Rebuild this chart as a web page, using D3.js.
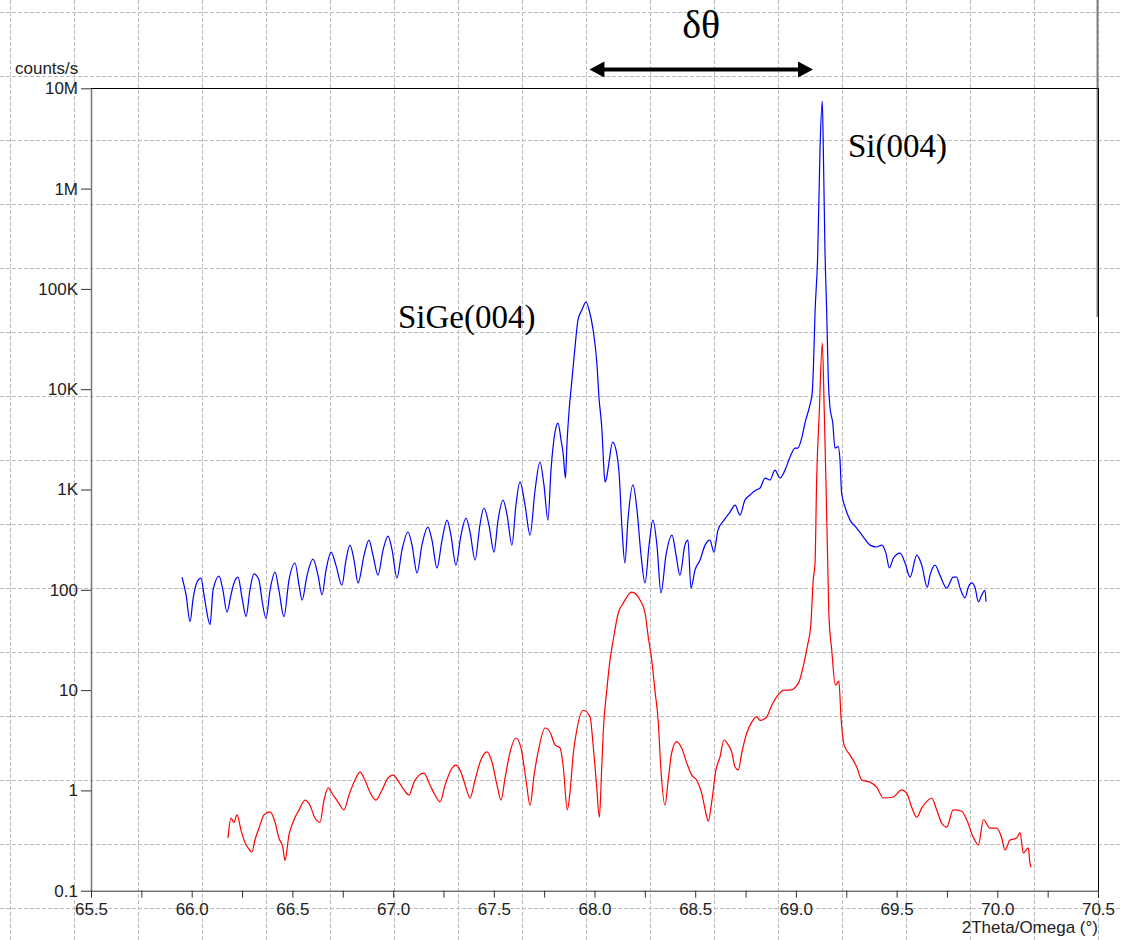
<!DOCTYPE html>
<html>
<head>
<meta charset="utf-8">
<script src="https://cdn.jsdelivr.net/npm/d3@7"></script>
<style>
  body { margin: 0; background: #fff; }
  svg { display: block; }
  .axis text { font-family: "Liberation Sans", Arial, sans-serif; font-size: 17px; fill: #222; }
  .label { font-family: "Liberation Serif", "Times New Roman", serif; fill: #000; }
</style>
</head>
<body>
<svg id="chart" width="1122" height="940"></svg>
<script>
// scan with the substrate peak (blue) and the layer peak (red)
var blueTheta = [65.952, 65.972, 65.992, 66.006, 66.026, 66.046, 66.061, 66.071, 66.091, 66.106,
  66.136, 66.155, 66.175, 66.195, 66.210, 66.230, 66.250, 66.270, 66.289, 66.309,
  66.334, 66.349, 66.369, 66.389, 66.414, 66.433, 66.458, 66.483, 66.513, 66.533,
  66.548, 66.573, 66.602, 66.627, 66.647, 66.667, 66.692, 66.716, 66.746, 66.766,
  66.786, 66.806, 66.826, 66.856, 66.880, 66.900, 66.925, 66.950, 66.975, 66.995,
  67.019, 67.044, 67.074, 67.094, 67.119, 67.143, 67.173, 67.193, 67.218, 67.243,
  67.268, 67.287, 67.312, 67.337, 67.362, 67.382, 67.407, 67.431, 67.451, 67.476,
  67.501, 67.521, 67.546, 67.566, 67.590, 67.610, 67.630, 67.655, 67.680, 67.705,
  67.729, 67.749, 67.769, 67.784, 67.804, 67.819, 67.834, 67.844, 67.856, 67.863,
  67.873, 67.888, 67.903, 67.918, 67.938, 67.958, 67.973, 67.993, 68.012, 68.022,
  68.037, 68.045, 68.052, 68.060, 68.070, 68.090, 68.110, 68.122, 68.137, 68.151,
  68.166, 68.191, 68.211, 68.231, 68.251, 68.271, 68.290, 68.310, 68.330, 68.355,
  68.385, 68.405, 68.424, 68.449, 68.464, 68.479, 68.499, 68.524, 68.549, 68.573,
  68.593, 68.613, 68.643, 68.673, 68.698, 68.722, 68.747, 68.772, 68.802, 68.822,
  68.847, 68.871, 68.896, 68.921, 68.946, 68.971, 68.996, 69.010, 69.030, 69.045,
  69.070, 69.081, 69.087, 69.095, 69.108, 69.120, 69.131, 69.136, 69.144, 69.153,
  69.161, 69.169, 69.183, 69.194, 69.210, 69.219, 69.227, 69.244, 69.269, 69.302,
  69.335, 69.368, 69.401, 69.426, 69.447, 69.464, 69.484, 69.517, 69.542, 69.567,
  69.600, 69.625, 69.652, 69.666, 69.691, 69.715, 69.749, 69.781, 69.798, 69.815,
  69.840, 69.856, 69.873, 69.889, 69.906, 69.923, 69.939, 69.944];

var blueCounts = [134, 89, 48, 79, 119, 131, 89, 67, 45, 99,
  137, 99, 60, 89, 117, 134, 83, 54, 99, 144,
  125, 79, 52, 99, 150, 99, 54, 125, 185, 111,
  79, 140, 202, 140, 89, 157, 238, 176, 111, 198,
  279, 198, 117, 222, 313, 222, 140, 249, 343, 249,
  131, 249, 377, 279, 147, 279, 422, 313, 165, 313,
  495, 351, 176, 351, 519, 377, 198, 442, 654, 442,
  238, 495, 785, 556, 279, 700, 1190, 700, 351, 988,
  1880, 1110, 495, 1560, 3740, 4600, 3110, 2310, 1300, 2770,
  5800, 12400, 26000, 49000, 62000, 74000, 62000, 39000, 18000, 8400,
  3900, 1840, 1190, 1300, 1750, 2970, 2310, 1460, 394, 185,
  495, 1110, 624, 222, 117, 279, 495, 279, 93, 222,
  351, 222, 140, 279, 313, 104, 157, 198, 279, 313,
  238, 394, 495, 596, 700, 556, 785, 881, 988, 1035,
  1300, 1240, 1560, 1300, 1560, 2110, 2590, 2590, 3330, 4600,
  7000, 9200, 16600, 58000, 208000, 2600000, 7470000, 2600000, 262000, 58000,
  12400, 6650, 4600, 2590, 2680, 1970, 923, 668, 495, 413,
  336, 279, 267, 279, 232, 165, 207, 232, 185, 134,
  222, 176, 106, 140, 176, 140, 104, 134, 134, 104,
  83, 106, 117, 106, 76, 89, 99, 76];

var redTheta = [66.180, 66.195, 66.210, 66.225, 66.245, 66.265, 66.280, 66.299, 66.314, 66.334,
  66.359, 66.389, 66.414, 66.433, 66.453, 66.463, 66.483, 66.508, 66.533, 66.563,
  66.587, 66.612, 66.637, 66.657, 66.677, 66.702, 66.726, 66.756, 66.781, 66.811,
  66.836, 66.860, 66.885, 66.915, 66.945, 66.975, 66.999, 67.029, 67.054, 67.079,
  67.104, 67.129, 67.153, 67.183, 67.208, 67.233, 67.258, 67.287, 67.312, 67.337,
  67.362, 67.382, 67.407, 67.436, 67.466, 67.491, 67.516, 67.536, 67.556, 67.581,
  67.610, 67.635, 67.660, 67.680, 67.700, 67.724, 67.754, 67.779, 67.804, 67.829,
  67.845, 67.865, 67.878, 67.895, 67.912, 67.944, 67.978, 67.994, 68.011, 68.024,
  68.036, 68.044, 68.061, 68.077, 68.093, 68.118, 68.143, 68.185, 68.226, 68.251,
  68.267, 68.284, 68.300, 68.317, 68.329, 68.350, 68.366, 68.383, 68.408, 68.433,
  68.458, 68.483, 68.507, 68.532, 68.557, 68.565, 68.582, 68.603, 68.623, 68.643,
  68.664, 68.681, 68.698, 68.714, 68.731, 68.756, 68.781, 68.805, 68.822, 68.852,
  68.881, 68.911, 68.941, 68.971, 69.013, 69.039, 69.057, 69.074, 69.086, 69.095,
  69.103, 69.116, 69.131, 69.141, 69.149, 69.158, 69.164, 69.178, 69.196, 69.213,
  69.225, 69.239, 69.269, 69.302, 69.327, 69.368, 69.401, 69.434, 69.484, 69.525,
  69.550, 69.575, 69.600, 69.625, 69.657, 69.674, 69.699, 69.724, 69.749, 69.781,
  69.823, 69.848, 69.881, 69.906, 69.931, 69.964, 69.997, 70.022, 70.038, 70.063,
  70.096, 70.113, 70.129, 70.154, 70.162, 70.167];

var redCounts = [0.335, 0.53, 0.48, 0.57, 0.40, 0.30, 0.267, 0.243, 0.32, 0.42,
  0.57, 0.61, 0.48, 0.335, 0.267, 0.20, 0.36, 0.51, 0.64, 0.80,
  0.71, 0.53, 0.48, 0.80, 1.06, 0.90, 0.77, 0.64, 0.90, 1.27,
  1.52, 1.27, 0.96, 0.80, 1.01, 1.33, 1.42, 1.21, 1.01, 0.90,
  1.21, 1.42, 1.49, 1.13, 0.90, 0.77, 1.13, 1.60, 1.79, 1.52,
  1.06, 0.84, 1.27, 2.01, 2.42, 1.92, 1.13, 0.80, 1.33, 2.42,
  3.33, 2.65, 1.27, 0.71, 1.42, 2.65, 4.19, 3.82, 2.84, 2.65,
  1.71, 0.64, 0.94, 2.36, 4.0, 6.3, 5.4, 2.71, 1.08, 0.54,
  1.71, 4.0, 10.0, 19.9, 31.6, 58.7, 74, 95, 79, 58.7,
  33.8, 19.9, 10.0, 4.7, 1.71, 0.71, 1.27, 2.36, 3.06, 2.63,
  1.88, 1.42, 1.27, 0.94, 0.55, 0.49, 0.77, 1.60, 2.15, 3.18,
  2.84, 2.42, 1.71, 1.60, 2.36, 3.73, 4.8, 5.4, 5.0, 5.3,
  7.1, 8.9, 10.0, 10.0, 11.8, 18.2, 27.5, 44.6, 125, 185,
  1245, 5800, 28900, 5800, 1245, 185, 56, 25, 11.2, 12.3,
  5.0, 2.84, 2.25, 1.71, 1.27, 1.21, 1.08, 0.84, 0.86, 1.01,
  0.94, 0.68, 0.54, 0.67, 0.80, 0.84, 0.64, 0.47, 0.43, 0.64,
  0.62, 0.51, 0.34, 0.286, 0.51, 0.42, 0.42, 0.335, 0.255, 0.32,
  0.335, 0.38, 0.238, 0.267, 0.189, 0.172];

var xTickValues = [65.5, 65.75, 66.0, 66.25, 66.5, 66.75, 67.0, 67.25, 67.5, 67.75, 68.0,
  68.25, 68.5, 68.75, 69.0, 69.25, 69.5, 69.75, 70.0, 70.25, 70.5];
var yTickValues = [0.1, 1, 10, 100, 1e3, 1e4, 1e5, 1e6, 1e7];
var yTickLabels = ["0.1", "1", "10", "100", "1K", "10K", "100K", "1M", "10M"];

// peak positions used for the delta-theta arrow
var sigePeak = 67.975, siPeak = 69.085;

var svg = d3.select("#chart");
var W = 1122, H = 940;

var x = d3.scaleLinear().domain([65.5, 70.5]).range([91, 1098]);
var y = d3.scaleLog().domain([0.1, 1e7]).range([890.7, 88.3]);

// background dashed grid (page grid, not tied to the data)
var grid = svg.append("g").attr("stroke", "#bdbdbd").attr("stroke-dasharray", "4,2").attr("stroke-width", 1);
d3.range(10, W, 64).forEach(function (gx) {
  grid.append("line").attr("x1", gx + 0.5).attr("x2", gx + 0.5).attr("y1", 0).attr("y2", H);
});
d3.range(12.5, H, 64).forEach(function (gy) {
  grid.append("line").attr("x1", 0).attr("x2", W).attr("y1", gy).attr("y2", gy);
});

// frame
svg.append("line").attr("x1", 1097.5).attr("x2", 1097.5).attr("y1", 0).attr("y2", 317)
  .attr("stroke", "#808080").attr("stroke-width", 2);
svg.append("line").attr("x1", 91).attr("x2", 1098.5).attr("y1", 88.5).attr("y2", 88.5)
  .attr("stroke", "#000").attr("stroke-width", 1);
svg.append("line").attr("x1", 1098.5).attr("x2", 1098.5).attr("y1", 88.5).attr("y2", 898)
  .attr("stroke", "#000").attr("stroke-width", 1);

// axes
var yAxis = d3.axisLeft(y).tickValues(yTickValues)
  .tickFormat(function (d, i) { return yTickLabels[i]; })
  .tickSize(10).tickSizeOuter(0).tickPadding(3);
var gy = svg.append("g").attr("class", "axis").attr("transform", "translate(91,0)").call(yAxis);
gy.select(".domain").attr("stroke", "#777").attr("stroke-width", 1.5);
gy.selectAll(".tick line").attr("stroke", "#333");

var xAxis = d3.axisBottom(x).tickValues(xTickValues)
  .tickFormat(function (d) { return (Math.round(d * 100) % 50 === 0) ? d.toFixed(1) : ""; })
  .tickSize(7).tickSizeOuter(0).tickPadding(5);
var gx = svg.append("g").attr("class", "axis").attr("transform", "translate(0,890.7)").call(xAxis);
gx.select(".domain").attr("stroke", "#333");
gx.selectAll(".tick line").attr("stroke", "#333");

svg.append("text").attr("x", 15).attr("y", 74)
  .style("font-family", "'Liberation Sans', Arial, sans-serif").style("font-size", "17px").attr("fill", "#222")
  .text("counts/s");
svg.append("text").attr("x", 1098).attr("y", 933).attr("text-anchor", "end")
  .style("font-family", "'Liberation Sans', Arial, sans-serif").style("font-size", "17px").attr("fill", "#222")
  .text("2Theta/Omega (°)");

// curves
var line = d3.line()
  .curve(d3.curveMonotoneX)
  .x(function (d) { return x(d[0]); })
  .y(function (d) { return y(d[1]); });

svg.append("path")
  .datum(d3.zip(redTheta, redCounts))
  .attr("fill", "none")
  .attr("stroke", "#ff0000")
  .attr("stroke-width", 1.2)
  .attr("stroke-linejoin", "round")
  .attr("d", line);

svg.append("path")
  .datum(d3.zip(blueTheta, blueCounts))
  .attr("fill", "none")
  .attr("stroke", "#0000ff")
  .attr("stroke-width", 1.2)
  .attr("stroke-linejoin", "round")
  .attr("d", line);

// annotations
svg.append("text").attr("class", "label").attr("x", 848).attr("y", 157)
  .style("font-size", "33px").text("Si(004)");
svg.append("text").attr("class", "label").attr("x", 398).attr("y", 328)
  .style("font-size", "33px").text("SiGe(004)");
svg.append("text").attr("class", "label").attr("x", (x(sigePeak) + x(siPeak)) / 2).attr("y", 38)
  .attr("text-anchor", "middle").style("font-size", "40px").text("δθ");

var ay = 69.5, ax1 = x(sigePeak), ax2 = x(siPeak);
svg.append("line").attr("x1", ax1 + 10).attr("x2", ax2 - 10).attr("y1", ay).attr("y2", ay)
  .attr("stroke", "#000").attr("stroke-width", 4);
svg.append("path").attr("fill", "#000")
  .attr("d", "M" + ax1 + "," + ay + "L" + (ax1 + 15) + "," + (ay - 8) + "L" + (ax1 + 15) + "," + (ay + 8) + "Z");
svg.append("path").attr("fill", "#000")
  .attr("d", "M" + ax2 + "," + ay + "L" + (ax2 - 15) + "," + (ay - 8) + "L" + (ax2 - 15) + "," + (ay + 8) + "Z");
</script>
</body>
</html>
